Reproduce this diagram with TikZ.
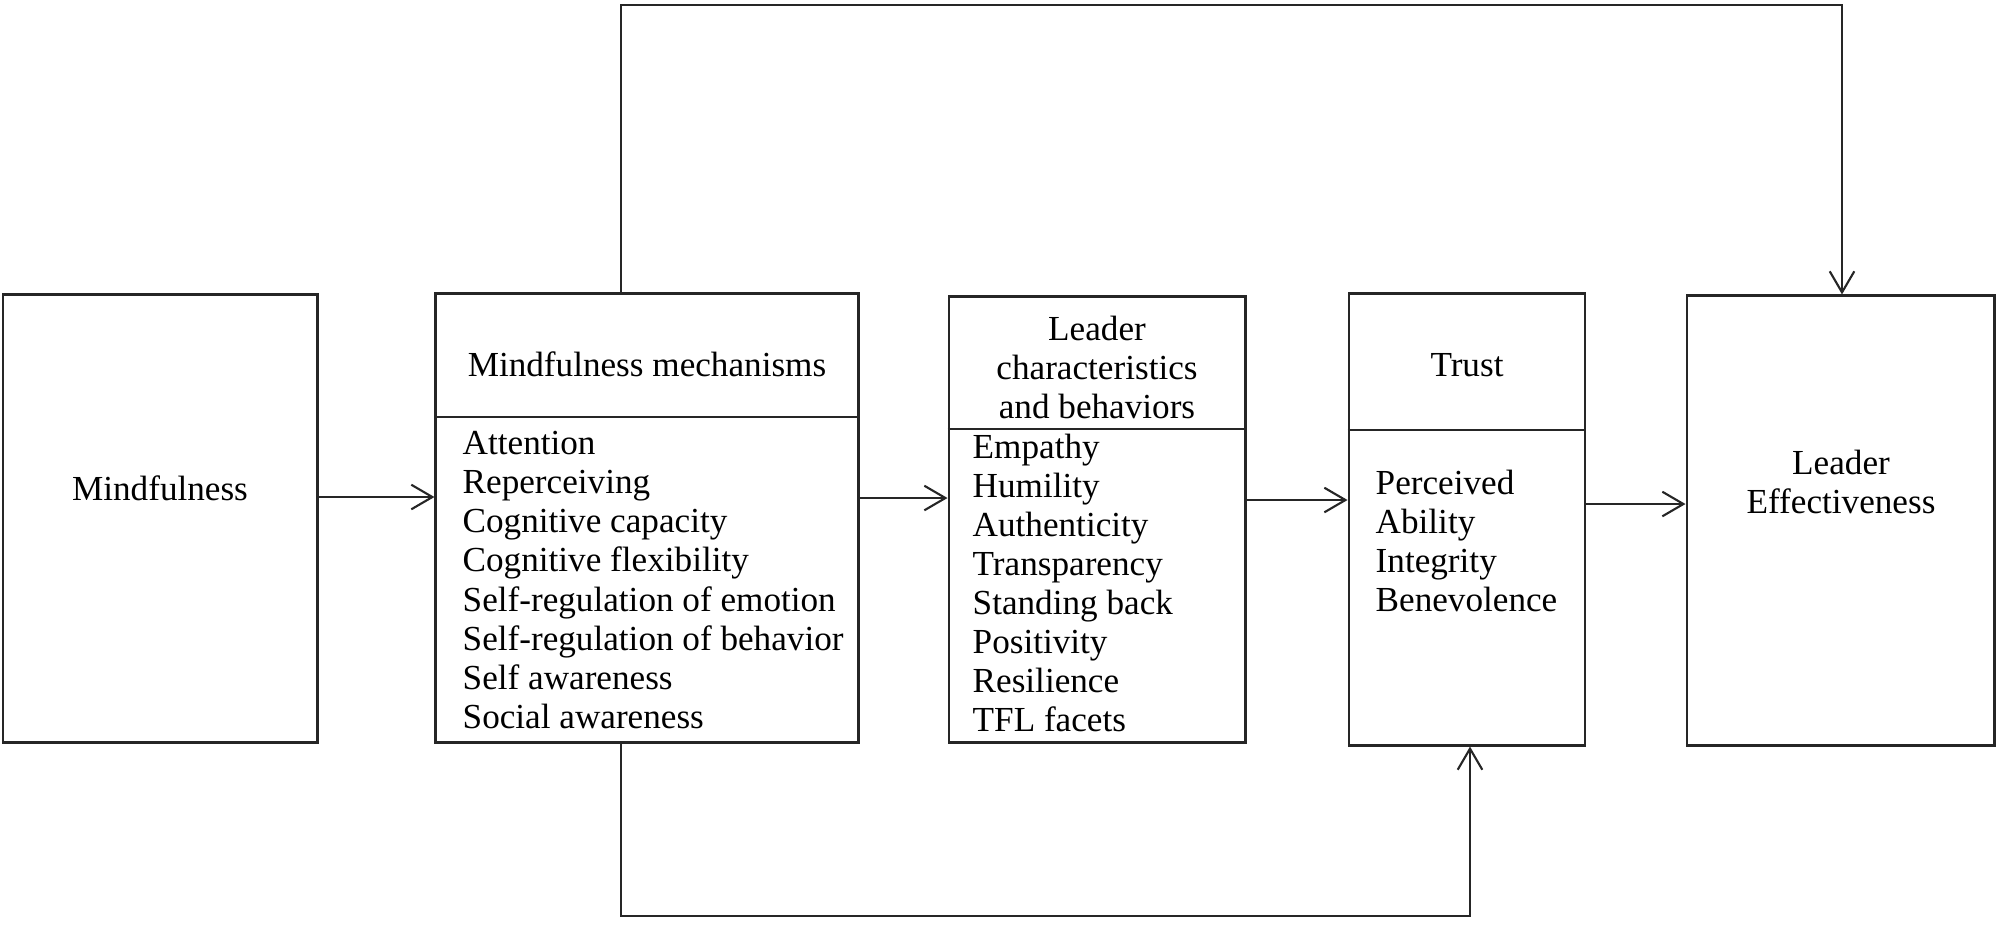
\documentclass[tikz,border=0pt]{standalone}
\usepackage{fontspec}
\setmainfont{Liberation Serif}
\usetikzlibrary{arrows.meta}

\begin{document}
\begin{tikzpicture}[x=0.01cm, y=-0.01cm, >={Straight Barb[length=6pt,width=7pt]},
  boxnode/.style={draw=black!85, line width=0.8pt, inner sep=0pt},
  textnode/.style={inner sep=0pt, font=\fontsize{10}{11.1}\selectfont},
  link/.style={->, draw=black!85, line width=0.6pt}]
  \useasboundingbox (0,0) rectangle (2000,926);

  \node[boxnode, minimum width=3.14cm, minimum height=4.47cm] (mind) at (160, 518.5) {};
  \node[boxnode, minimum width=4.22cm, minimum height=4.48cm] (mech) at (647, 518) {};
  \node[boxnode, minimum width=2.96cm, minimum height=4.45cm] (lead) at (1097, 519.5) {};
  \node[boxnode, minimum width=2.36cm, minimum height=4.51cm] (trust) at (1467, 519.5) {};
  \node[boxnode, minimum width=3.07cm, minimum height=4.49cm] (eff) at (1840.5, 520.5) {};

  % header lines
  \draw[black!85, line width=0.8pt] (mech.west |- 0,417) -- (mech.east |- 0,417);
  \draw[black!85, line width=0.8pt] (lead.west |- 0,429) -- (lead.east |- 0,429);
  \draw[black!85, line width=0.8pt] (trust.west |- 0,430) -- (trust.east |- 0,430);

  \node[textnode] (mindlabel) at (160, 488) {Mindfulness};
  \node[textnode] (mechtitle) at (647, 364) {Mindfulness mechanisms};
  \node[textnode, anchor=west, align=left] (mechlist) at (462, 580)
    {Attention\\Reperceiving\\Cognitive capacity\\Cognitive flexibility\\Self-regulation of emotion\\Self-regulation of behavior\\Self awareness\\Social awareness};
  \node[textnode, align=center] (leadtitle) at (1097, 367) {Leader\\characteristics\\and behaviors};
  \node[textnode, anchor=west, align=left] (leadlist) at (972, 583)
    {Empathy\\Humility\\Authenticity\\Transparency\\Standing back\\Positivity\\Resilience\\TFL facets};
  \node[textnode] (trusttitle) at (1467, 365) {Trust};
  \node[textnode, anchor=west, align=left] (trustlist) at (1375, 541)
    {Perceived\\Ability\\Integrity\\Benevolence};
  \node[textnode, align=center] (efflabel) at (1841, 482) {Leader\\Effectiveness};

  \draw[link] (mind.east |- 0,497) -- (mech.west |- 0,497);
  \draw[link] (mech.east |- 0,498) -- (lead.west |- 0,498);
  \draw[link] (lead.east |- 0,500) -- (trust.west |- 0,500);
  \draw[link] (trust.east |- 0,504) -- (eff.west |- 0,504);

  % feedback paths
  \coordinate (topleft) at (621, 5);
  \coordinate (topright) at (1842, 5);
  \draw[link] (mech.north -| topleft) -- (topleft) -- (topright) -- (eff.north -| topright);
  \coordinate (botleft) at (621, 916);
  \coordinate (botright) at (1470, 916);
  \draw[link] (mech.south -| botleft) -- (botleft) -- (botright) -- (trust.south -| botright);
\end{tikzpicture}
\end{document}
